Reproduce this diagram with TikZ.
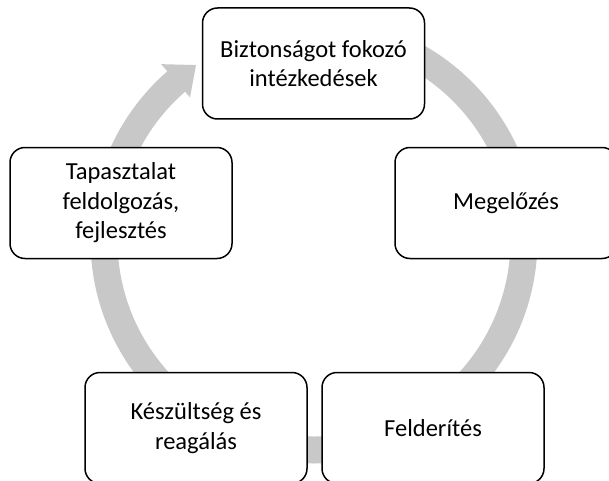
\documentclass[tikz,border=0pt]{standalone}
\usepackage{fontspec}
\setmainfont{Carlito}
\definecolor{ringgray}{RGB}{200,200,200}
\begin{document}
\begin{tikzpicture}[x=1pt,y=1pt,line join=round,
    box/.style={draw,fill=white,line width=1.5pt,rounded corners=15pt,
      minimum width=222pt,minimum height=111pt,align=center,inner sep=2pt,
      font=\fontsize{24.5}{29.5}\selectfont}]
    \useasboundingbox (0,0) rectangle (609,480);
    % circular arrow behind the boxes
    \fill[ringgray,shift={(314,240)}] (90:223.5) arc[start angle=90,end angle=-229,radius=223.5]
        -- (131:233) -- (124:211) -- (131:189) -- (131:196.5)
        arc[start angle=-229,end angle=90,radius=196.5] -- cycle;
    \node[box] (bizt) at (313.5,416.5) {Biztonságot fokozó\\intézkedések};
    \node[box] (meg) at (506,277) {Megelőzés};
    \node[box] (feld) at (433,52) {Felderítés};
    \node[box] (kesz) at (196,52) {Készültség és\\reagálás};
    \node[box] (tap) at (121,277) {Tapasztalat\\feldolgozás,\\fejlesztés};
\end{tikzpicture}
\end{document}
